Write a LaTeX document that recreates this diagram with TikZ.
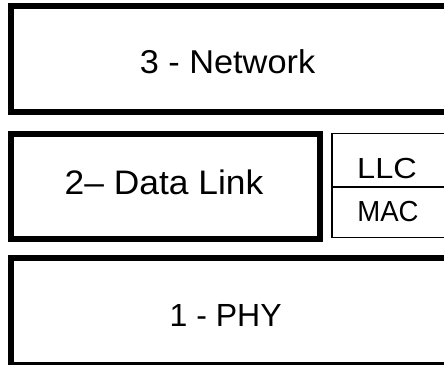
\documentclass[tikz,border=0pt]{standalone}
\usepackage{fontspec}
\setmainfont{Liberation Sans}
\begin{document}
\begin{tikzpicture}[x=1pt,y=-1pt,
  layerbox/.style={draw=black, line width=6pt, inner sep=0pt, rectangle},
  subbox/.style={draw=black, line width=1.6pt, inner sep=0pt, rectangle},
  txt/.style={inner sep=0pt, text=black}]
\useasboundingbox (0,0) rectangle (444,364);
\clip (0,0) rectangle (444,364);
% layer boxes
\node[layerbox, minimum width=441pt, minimum height=105.7pt] (net) at (231.5,59.2) {};
\node[layerbox, minimum width=309pt, minimum height=105pt] (dl) at (165.5,186) {};
\node[subbox, minimum width=118pt, minimum height=53.2pt] (llc) at (391,160.1) {};
\node[subbox, minimum width=118pt, minimum height=50.8pt] (mac) at (391,212.1) {};
\node[layerbox, minimum width=441pt, minimum height=107pt] (phy) at (231.5,311.5) {};
% texts
\node[txt, font=\fontsize{33}{36}\selectfont] (nettxt) at (227.5,61.5) {\scalebox{1.04}[1]{3 - Network}};
\node[txt, font=\fontsize{34}{38}\selectfont] (dltxt) at (164,182.5) {\scalebox{1.04}[1]{2– Data Link}};
\node[txt, font=\fontsize{29}{32}\selectfont] (llctxt) at (387,169) {\scalebox{1.12}[1]{LLC}};
\node[txt, font=\fontsize{29}{32}\selectfont] (mactxt) at (388,211.7) {\scalebox{0.95}[1]{MAC}};
\node[txt, font=\fontsize{32}{36}\selectfont] (phytxt) at (225.7,315) {1 - PHY};
\end{tikzpicture}
\end{document}
